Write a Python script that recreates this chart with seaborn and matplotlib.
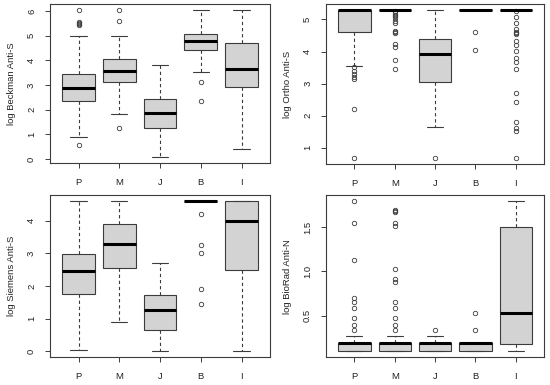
import numpy as np
import matplotlib
matplotlib.use("Agg")
import matplotlib.pyplot as plt
import seaborn as sns

# groups on the x axis
groups = ["P", "M", "J", "B", "I"]

# Beckman Anti-S (top left)
beckman_whislo = [0.90, 1.83, 0.08, 3.53, 0.40]
beckman_q1 = [2.33, 3.10, 1.27, 4.40, 2.90]
beckman_med = [2.87, 3.58, 1.87, 4.77, 3.63]
beckman_q3 = [3.43, 4.05, 2.45, 5.07, 4.72]
beckman_whishi = [4.97, 5.00, 3.82, 6.05, 6.05]
beckman_fliers = [[6.05, 5.57, 5.53, 5.48, 5.42, 0.57],
                  [6.05, 5.58, 1.24],
                  [],
                  [3.13, 2.36],
                  []]

# Ortho Anti-S (top right)
ortho_whislo = [3.56, 5.30, 1.66, 5.30, 5.30]
ortho_q1 = [4.60, 5.30, 3.05, 5.30, 5.30]
ortho_med = [5.30, 5.30, 3.92, 5.30, 5.30]
ortho_q3 = [5.30, 5.30, 4.38, 5.30, 5.30]
ortho_whishi = [5.30, 5.30, 5.30, 5.30, 5.30]
ortho_fliers = [[3.52, 3.40, 3.30, 3.22, 3.15, 2.20, 0.68],
                [5.25, 5.20, 5.15, 5.10, 5.05, 4.95, 4.90, 4.65, 4.60, 4.57,
                 4.22, 4.15, 3.75, 3.45],
                [0.68],
                [4.60, 4.05],
                [5.25, 5.08, 4.88, 4.70, 4.62, 4.58, 4.53, 4.33, 4.20, 4.02,
                 3.80, 3.68, 3.46, 2.72, 2.44, 1.79, 1.62, 1.52, 0.68]]

# Siemens Anti-S (bottom left)
siemens_whislo = [0.03, 0.89, 0.00, 4.60, 0.00]
siemens_q1 = [1.77, 2.54, 0.64, 4.60, 2.50]
siemens_med = [2.46, 3.28, 1.28, 4.60, 3.99]
siemens_q3 = [2.99, 3.91, 1.74, 4.60, 4.60]
siemens_whishi = [4.60, 4.60, 2.72, 4.60, 4.60]
siemens_fliers = [[], [], [], [4.20, 3.26, 3.02, 1.90, 1.44], []]

# BioRad Anti-N (bottom right)
biorad_whislo = [0.10, 0.10, 0.10, 0.10, 0.10]
biorad_q1 = [0.10, 0.10, 0.10, 0.10, 0.18]
biorad_med = [0.19, 0.19, 0.19, 0.19, 0.53]
biorad_q3 = [0.19, 0.19, 0.19, 0.19, 1.50]
biorad_whishi = [0.27, 0.27, 0.27, 0.19, 1.79]
biorad_fliers = [[1.79, 1.55, 1.13, 0.70, 0.65, 0.59, 0.47, 0.40, 0.34],
                 [1.69, 1.68, 1.67, 1.55, 1.51, 1.03, 0.91, 0.88, 0.65, 0.59,
                  0.47, 0.40, 0.34],
                 [0.34],
                 [0.34, 0.53],
                 []]

sns.set_style("white")
plt.rcParams["font.family"] = ["Liberation Sans", "DejaVu Sans"]

EDGE = "#3c3c3c"
FS = 6.8


def draw_panel(ax, ylabel, whislo, q1, med, q3, whishi, fliers, yticks, ticklabels):
    stats = []
    for i, g in enumerate(groups):
        stats.append({"label": g, "whislo": whislo[i], "q1": q1[i], "med": med[i],
                      "q3": q3[i], "whishi": whishi[i], "fliers": fliers[i]})
    ax.bxp(stats, positions=range(1, len(groups) + 1), widths=0.8,
           patch_artist=True, showfliers=True,
           boxprops=dict(facecolor="#d3d3d3", edgecolor=EDGE, linewidth=0.8),
           medianprops=dict(color="black", linewidth=2.2, solid_capstyle="butt"),
           whiskerprops=dict(color=EDGE, linewidth=0.8, linestyle=(0, (3, 2.5))),
           capprops=dict(color=EDGE, linewidth=0.8),
           capwidths=0.4,
           flierprops=dict(marker="o", markersize=3.2, markerfacecolor="none",
                           markeredgecolor=EDGE, markeredgewidth=0.6))
    # R-like 4% axis padding
    vals = np.concatenate([whislo, whishi] + [np.array(f, dtype=float) for f in fliers])
    lo, hi = vals.min(), vals.max()
    pad = 0.04 * (hi - lo)
    ax.set_ylim(lo - pad, hi + pad)
    ax.set_xlim(0.3, len(groups) + 0.7)
    ax.set_yticks(yticks)
    ax.set_yticklabels(ticklabels, rotation=90, va="center")
    ax.set_xticks(range(1, len(groups) + 1))
    ax.set_xticklabels(groups)
    ax.set_ylabel(ylabel, fontsize=FS, color="#222222", labelpad=8)
    ax.tick_params(axis="both", which="both", direction="out", length=3.6,
                   width=0.7, color=EDGE, labelsize=FS, labelcolor="#222222",
                   left=True, bottom=True)
    ax.tick_params(axis="x", pad=7)
    ax.tick_params(axis="y", pad=6.5)
    for s in ax.spines.values():
        s.set_visible(True)
        s.set_color(EDGE)
        s.set_linewidth(0.8)


fig = plt.figure(figsize=(5.5, 3.85), dpi=100)
ax_tl = fig.add_axes([0.091, 0.577, 0.400, 0.413])
ax_tr = fig.add_axes([0.593, 0.574, 0.396, 0.416])
ax_bl = fig.add_axes([0.091, 0.072, 0.400, 0.421])
ax_br = fig.add_axes([0.593, 0.072, 0.396, 0.421])

draw_panel(ax_tl, "log Beckman Anti-S", beckman_whislo, beckman_q1, beckman_med,
           beckman_q3, beckman_whishi, beckman_fliers,
           [0, 1, 2, 3, 4, 5, 6], ["0", "1", "2", "3", "4", "5", "6"])
draw_panel(ax_tr, "log Ortho Anti-S", ortho_whislo, ortho_q1, ortho_med,
           ortho_q3, ortho_whishi, ortho_fliers,
           [1, 2, 3, 4, 5], ["1", "2", "3", "4", "5"])
draw_panel(ax_bl, "log Siemens Anti-S", siemens_whislo, siemens_q1, siemens_med,
           siemens_q3, siemens_whishi, siemens_fliers,
           [0, 1, 2, 3, 4], ["0", "1", "2", "3", "4"])
draw_panel(ax_br, "log BioRad Anti-N", biorad_whislo, biorad_q1, biorad_med,
           biorad_q3, biorad_whishi, biorad_fliers,
           [0.5, 1.0, 1.5], ["0.5", "1.0", "1.5"])

fig.savefig("out.png", dpi=100)
